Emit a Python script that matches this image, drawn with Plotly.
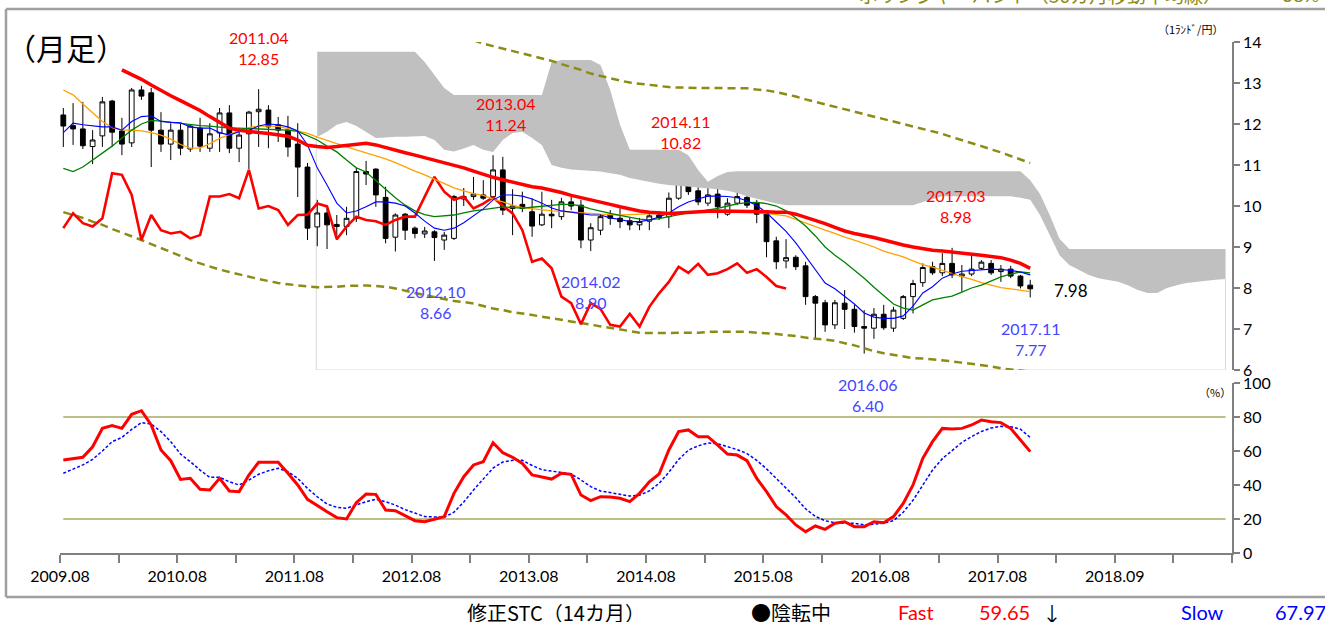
import plotly.graph_objects as go

# ---------------- data (monthly, 2009.08 = month 0) ----------------
month_idx = list(range(100))
x_tick_text = ["2009.08", "2010.08", "2011.08", "2012.08", "2013.08",
               "2014.08", "2015.08", "2016.08", "2017.08", "2018.09"]

open_ = [12.22, 11.96, 11.88, 11.45, 11.71, 12.56, 11.83, 11.54, 12.83, 12.76,
         11.85, 11.51, 11.85, 11.39, 11.90, 11.41, 11.78, 12.27, 11.41, 11.76,
         12.30, 12.34, 11.98, 11.85, 11.51, 10.95, 9.49, 9.83, 9.55, 9.50,
         9.70, 10.84, 10.90, 10.21, 9.24, 9.80, 9.46, 9.32, 9.37, 9.17,
         9.21, 10.17, 10.23, 10.27, 10.23, 10.88, 9.94, 10.04, 9.86, 9.54,
         9.80, 9.74, 10.10, 10.02, 9.17, 9.41, 9.78, 9.70, 9.64, 9.54,
         9.63, 9.78, 9.74, 10.19, 10.76, 10.37, 10.07, 10.29, 9.80, 10.07,
         10.21, 10.08, 9.82, 9.15, 8.66, 8.75, 8.54, 7.79, 7.64, 7.10,
         7.63, 7.48, 7.06, 7.02, 7.36, 7.02, 7.26, 7.79, 8.13, 8.52,
         8.37, 8.60, 8.29, 8.34, 8.48, 8.60, 8.40, 8.46, 8.29, 8.07]
high = [12.39, 12.51, 12.54, 11.85, 12.66, 12.59, 12.15, 12.88, 12.93, 12.88,
        12.29, 12.02, 12.02, 12.00, 12.15, 12.02, 12.39, 12.46, 11.90, 12.32,
        12.85, 12.46, 12.17, 12.20, 12.02, 11.05, 10.15, 9.98, 9.78, 9.98,
        10.93, 11.10, 10.92, 10.47, 9.82, 9.83, 9.50, 9.49, 9.41, 9.37,
        10.27, 10.44, 10.71, 10.63, 11.24, 11.20, 10.41, 10.35, 10.19, 10.35,
        10.15, 10.20, 10.22, 10.15, 9.58, 9.80, 9.90, 9.94, 9.71, 9.71,
        9.83, 9.88, 10.33, 10.82, 10.81, 10.46, 10.47, 10.47, 10.19, 10.33,
        10.27, 10.15, 9.86, 9.25, 9.19, 8.80, 8.64, 7.83, 7.71, 7.71,
        7.95, 7.59, 7.46, 7.51, 7.59, 7.54, 7.83, 8.20, 8.60, 8.64,
        8.85, 8.98, 8.56, 8.80, 8.68, 8.68, 8.56, 8.54, 8.32, 8.20]
low = [11.44, 11.49, 11.39, 11.02, 11.44, 11.44, 11.24, 11.44, 12.59, 10.95,
       11.32, 11.12, 11.24, 11.32, 11.32, 11.32, 11.32, 11.29, 11.07, 10.90,
       11.44, 11.41, 11.56, 11.20, 10.22, 9.17, 9.02, 8.95, 9.17, 9.29,
       9.61, 10.51, 9.98, 9.09, 8.89, 9.17, 9.21, 9.22, 8.66, 8.93,
       9.17, 10.00, 10.15, 10.15, 10.15, 9.78, 9.29, 9.85, 9.25, 9.51,
       9.46, 9.66, 9.90, 8.97, 8.90, 9.29, 9.54, 9.46, 9.41, 9.41,
       9.41, 9.66, 9.46, 10.15, 10.27, 10.02, 10.00, 9.70, 9.76, 10.02,
       9.95, 9.58, 8.75, 8.46, 8.48, 8.44, 7.59, 6.73, 6.93, 7.00,
       7.00, 6.91, 6.40, 6.76, 6.98, 6.93, 7.22, 7.38, 8.03, 8.32,
       8.29, 8.24, 7.91, 8.29, 8.44, 8.32, 8.15, 8.24, 7.99, 7.77]
close = [11.95, 11.88, 11.47, 11.61, 12.54, 11.80, 11.51, 12.83, 12.68, 11.85,
         11.51, 11.85, 11.41, 11.95, 11.46, 11.76, 12.27, 11.41, 11.73, 12.29,
         12.36, 11.93, 11.85, 11.44, 10.95, 9.46, 9.83, 9.54, 9.50, 9.70,
         10.84, 10.78, 10.27, 9.21, 9.78, 9.41, 9.33, 9.39, 9.23, 9.29,
         10.23, 10.23, 10.29, 10.19, 10.88, 9.90, 10.00, 9.94, 9.51, 9.80,
         9.76, 10.10, 10.00, 9.17, 9.47, 9.74, 9.70, 9.62, 9.54, 9.62,
         9.76, 9.72, 10.19, 10.71, 10.35, 10.10, 10.27, 9.98, 10.07, 10.23,
         10.02, 9.80, 9.13, 8.64, 8.74, 8.52, 7.79, 7.63, 7.10, 7.64,
         7.48, 7.06, 7.02, 7.36, 7.03, 7.46, 7.79, 8.11, 8.50, 8.37,
         8.60, 8.32, 8.34, 8.46, 8.63, 8.37, 8.46, 8.29, 8.05, 7.98]

# moving averages
ma_red_start = 6
ma_red = [13.32, 13.21, 13.09, 12.95, 12.81, 12.69, 12.57, 12.45, 12.33, 12.18,
          12.04, 11.90, 11.85, 11.81, 11.79, 11.77, 11.73, 11.70, 11.61, 11.48,
          11.45, 11.43, 11.45, 11.48, 11.51, 11.53, 11.49, 11.42, 11.37, 11.30,
          11.24, 11.18, 11.11, 11.05, 10.99, 10.93, 10.85, 10.77, 10.70, 10.64,
          10.58, 10.52, 10.47, 10.44, 10.39, 10.33, 10.26, 10.21, 10.15, 10.09,
          10.04, 9.98, 9.92, 9.88, 9.85, 9.83, 9.82, 9.83, 9.85, 9.86,
          9.87, 9.88, 9.88, 9.88, 9.87, 9.86, 9.86, 9.85, 9.85, 9.80,
          9.73, 9.66, 9.57, 9.48, 9.39, 9.33, 9.29, 9.23, 9.17, 9.10,
          9.05, 9.00, 8.95, 8.92, 8.90, 8.88, 8.86, 8.83, 8.80, 8.77,
          8.74, 8.68, 8.60, 8.48]
ma_blue = [11.79, 12.02, 11.98, 11.95, 11.93, 11.93, 11.85, 12.06, 12.18, 12.20,
           12.06, 12.04, 12.03, 11.93, 11.90, 11.90, 11.79, 11.73, 11.81, 11.85,
           11.95, 12.00, 11.98, 11.93, 11.83, 11.49, 10.93, 10.51, 10.07, 9.83,
           9.88, 9.98, 10.10, 10.10, 10.07, 10.00, 9.83, 9.63, 9.46, 9.41,
           9.46, 9.59, 9.76, 9.93, 10.15, 10.27, 10.27, 10.24, 10.17, 10.07,
           9.95, 9.88, 9.85, 9.82, 9.78, 9.78, 9.71, 9.67, 9.62, 9.62,
           9.66, 9.73, 9.83, 9.98, 10.10, 10.17, 10.24, 10.24, 10.23, 10.20,
           10.13, 10.01, 9.84, 9.61, 9.38, 9.10, 8.78, 8.46, 8.12, 7.98,
           7.80, 7.61, 7.39, 7.29, 7.26, 7.26, 7.32, 7.56, 7.88, 8.03,
           8.24, 8.34, 8.41, 8.43, 8.45, 8.46, 8.45, 8.43, 8.39, 8.32]
ma_green = [10.92, 10.84, 10.95, 11.12, 11.27, 11.46, 11.66, 11.85, 12.00, 12.09,
            12.07, 12.04, 12.02, 11.99, 11.96, 11.95, 11.93, 11.90, 11.90, 11.89,
            11.88, 11.87, 11.87, 11.85, 11.82, 11.72, 11.61, 11.46, 11.32, 11.12,
            10.93, 10.83, 10.63, 10.41, 10.20, 10.02, 9.88, 9.79, 9.74, 9.76,
            9.78, 9.83, 9.88, 9.91, 9.94, 9.98, 9.96, 9.95, 9.97, 9.99,
            10.01, 10.04, 10.04, 10.00, 9.93, 9.87, 9.82, 9.77, 9.72, 9.68,
            9.66, 9.69, 9.74, 9.79, 9.83, 9.86, 9.90, 9.94, 10.00, 10.05,
            10.08, 10.09, 10.06, 10.00, 9.88, 9.71, 9.51, 9.27, 9.00, 8.80,
            8.63, 8.44, 8.24, 8.02, 7.81, 7.61, 7.51, 7.46, 7.59, 7.71,
            7.76, 7.80, 7.90, 8.00, 8.07, 8.17, 8.27, 8.34, 8.39, 8.37]
ma_orange = [12.83, 12.71, 12.49, 12.27, 12.06, 11.91, 11.85, 11.85, 11.83, 11.79,
             11.73, 11.63, 11.50, 11.41, 11.41, 11.52, 11.65, 11.74, 11.84, 11.91,
             11.95, 11.95, 11.94, 11.89, 11.83, 11.77, 11.68, 11.60, 11.51, 11.44,
             11.37, 11.30, 11.22, 11.15, 11.06, 10.95, 10.85, 10.76, 10.65, 10.54,
             10.44, 10.37, 10.30, 10.26, 10.17, 10.10, 10.02, 9.96, 9.93, 9.90,
             9.88, 9.87, 9.85, 9.83, 9.82, 9.80, 9.79, 9.78, 9.79, 9.80,
             9.82, 9.83, 9.84, 9.85, 9.86, 9.87, 9.87, 9.88, 9.88, 9.88,
             9.87, 9.84, 9.82, 9.79, 9.76, 9.67, 9.59, 9.50, 9.41, 9.33,
             9.24, 9.17, 9.09, 9.00, 8.90, 8.83, 8.76, 8.66, 8.57, 8.51,
             8.43, 8.35, 8.28, 8.21, 8.13, 8.07, 8.01, 7.98, 7.94, 7.91]

# lagging span (months 0-74)
chikou = [9.46, 9.82, 9.58, 9.50, 9.70, 10.80, 10.76, 10.27, 9.17, 9.78,
          9.41, 9.33, 9.37, 9.21, 9.29, 10.23, 10.23, 10.29, 10.19, 10.88,
          9.94, 10.00, 9.90, 9.54, 9.78, 9.79, 10.06, 9.99, 9.19, 9.50,
          9.74, 9.66, 9.63, 9.54, 9.66, 9.74, 9.74, 10.23, 10.71, 10.35,
          10.15, 10.23, 9.94, 10.06, 10.21, 10.00, 9.82, 9.41, 8.64, 8.72,
          8.48, 7.79, 7.63, 7.12, 7.63, 7.49, 7.10, 7.06, 7.37, 7.06,
          7.54, 7.87, 8.15, 8.52, 8.37, 8.59, 8.32, 8.36, 8.46, 8.60,
          8.37, 8.46, 8.27, 8.05, 7.99]

# Bollinger bands (36-month, +-2 sigma)
bb_upper_start = 42
bb_upper = [14.04, 13.96, 13.90, 13.84, 13.78, 13.72, 13.66, 13.60, 13.54, 13.46,
            13.39, 13.32, 13.23, 13.17, 13.11, 13.06, 13.01, 12.98, 12.95, 12.93,
            12.90, 12.89, 12.88, 12.88, 12.88, 12.88, 12.88, 12.88, 12.87, 12.84,
            12.82, 12.78, 12.73, 12.67, 12.60, 12.54, 12.48, 12.41, 12.35, 12.29,
            12.23, 12.17, 12.11, 12.06, 12.00, 11.94, 11.88, 11.82, 11.76, 11.68,
            11.61, 11.54, 11.46, 11.38, 11.31, 11.22, 11.13, 11.05]
bb_lower = [9.85, 9.78, 9.71, 9.62, 9.54, 9.44, 9.35, 9.27, 9.17, 9.07,
            8.98, 8.88, 8.78, 8.68, 8.60, 8.52, 8.45, 8.39, 8.33, 8.27,
            8.22, 8.17, 8.12, 8.09, 8.06, 8.04, 8.02, 8.02, 8.03, 8.05,
            8.06, 8.06, 8.05, 8.03, 7.99, 7.93, 7.88, 7.83, 7.78, 7.73,
            7.68, 7.66, 7.62, 7.56, 7.50, 7.46, 7.41, 7.38, 7.34, 7.30,
            7.26, 7.22, 7.18, 7.14, 7.10, 7.06, 7.02, 6.98, 6.94, 6.91,
            6.90, 6.90, 6.90, 6.90, 6.90, 6.91, 6.93, 6.93, 6.93, 6.93,
            6.93, 6.91, 6.90, 6.88, 6.85, 6.83, 6.79, 6.77, 6.74, 6.71,
            6.66, 6.60, 6.53, 6.46, 6.41, 6.37, 6.32, 6.29, 6.28, 6.26,
            6.23, 6.21, 6.18, 6.15, 6.12, 6.09, 6.04, 6.01, 5.99, 5.96]

# Ichimoku cloud (months 26-119)
cloud_start = 26
cloud_top = ([13.76] * 11 + [13.51, 13.20, 12.88] + [12.71] * 10 + [13.51]
             + [13.56] * 4 + [13.44, 12.83, 11.98] + [11.37] * 6
             + [11.24, 10.88, 10.59, 10.73, 10.83] + [10.85] * 30
             + [10.63, 10.29, 9.78, 9.20] + [8.95] * 17)
cloud_bot = ([11.68, 11.81, 11.98, 12.05, 11.95, 11.81, 11.66, 11.67, 11.69, 11.69, 11.70,
              11.71, 11.61, 11.37, 11.33, 11.40, 11.49, 11.37, 11.32, 11.61, 11.78, 11.81,
              11.66, 11.49,
              11.00, 10.93, 10.89, 10.87, 10.85, 10.84, 10.80, 10.76, 10.68, 10.63,
              10.59, 10.54, 10.51, 10.49, 10.47, 10.45, 10.44, 10.41, 10.37, 10.32,
              10.24, 10.18, 10.12, 10.06, 10.02]
             + [10.02] * 13 + [10.10, 10.17] + [10.24] * 8
             + [10.20, 10.15, 9.78, 9.29, 8.80, 8.56, 8.44, 8.32, 8.24, 8.20, 8.15,
                8.07, 7.95, 7.88, 7.88, 8.00, 8.07, 8.12, 8.15, 8.17, 8.20, 8.22])

# modified stochastics (14 months)
stc_fast = [54.7, 55.5, 56.3, 62.5, 73.3, 74.9, 73.3, 81.6, 83.7, 75.3,
            60.6, 54.3, 43.3, 43.9, 37.5, 37.1, 43.9, 36.5, 36.1, 45.9,
            53.4, 53.4, 53.4, 46.9, 40.0, 31.6, 28.2, 24.3, 20.8, 20.0,
            29.6, 34.7, 34.5, 25.3, 24.9, 21.8, 19.0, 18.4, 19.8, 21.4,
            35.1, 44.9, 51.8, 53.7, 64.9, 59.0, 56.3, 52.7, 45.9, 44.9,
            43.5, 46.9, 46.3, 34.1, 30.8, 33.1, 32.9, 32.2, 30.2, 35.1,
            41.9, 46.5, 60.6, 71.4, 72.4, 68.4, 68.4, 63.5, 58.2, 57.6,
            54.3, 43.9, 36.1, 27.3, 22.4, 16.5, 12.5, 15.9, 13.9, 17.5,
            18.4, 15.5, 15.5, 18.4, 17.8, 21.4, 29.2, 40.0, 55.7, 65.5,
            73.3, 72.9, 73.3, 75.3, 78.2, 77.2, 76.7, 73.3, 66.5, 59.65]
stc_slow = [46.9, 49.5, 51.8, 55.1, 60.0, 65.5, 68.0, 72.7, 76.7, 75.9,
            71.4, 65.5, 58.2, 53.7, 48.8, 44.5, 44.5, 41.9, 40.0, 42.9,
            46.3, 48.4, 49.8, 47.8, 43.9, 38.0, 33.1, 28.8, 26.9, 26.3,
            28.2, 30.2, 31.6, 30.2, 28.2, 25.5, 23.5, 21.4, 21.2, 21.0,
            24.0, 30.0, 37.0, 43.5, 50.0, 53.5, 54.5, 54.5, 51.5, 49.0,
            48.2, 47.6, 46.5, 43.0, 39.0, 36.5, 35.5, 34.5, 33.5, 34.0,
            36.5, 41.0, 47.5, 55.0, 60.5, 63.0, 64.7, 64.3, 62.5, 60.8,
            58.5, 54.5, 49.5, 44.0, 38.5, 32.5, 26.0, 21.5, 19.0, 17.8,
            17.5, 17.5, 16.5, 17.0, 17.5, 19.0, 24.0, 31.0, 40.0, 48.8,
            55.5, 60.5, 65.0, 68.5, 71.5, 73.5, 74.5, 74.3, 72.8, 67.97]
stc_levels = [80, 20]

highs_labels = [("2011.04", "12.85"), ("2013.04", "11.24"), ("2014.11", "10.82"), ("2017.03", "8.98")]
lows_labels = [("2012.10", "8.66"), ("2014.02", "8.90"), ("2016.06", "6.40"), ("2017.11", "7.77")]

# ---------------- layout geometry ----------------
W, H = 1325, 622
ML, MR, MT, MB = 60, 93, 42, 69
PW, PH = W - ML - MR, H - MT - MB
X_OFF = 0.34          # candle sits a third of a month after its tick


def px(p):
    return (p - ML) / PW


def py(p):
    return (H - MB - p) / PH


xc = [m + X_OFF for m in month_idx]
x_red = xc[ma_red_start:]
x_chi = xc[:len(chikou)]
x_bbu = xc[bb_upper_start:]
x_cloud = [cloud_start + i + X_OFF for i in range(len(cloud_top))]

OLIVE = "#8c8c14"
fig = go.Figure()

# cloud
fig.add_trace(go.Scatter(x=x_cloud, y=cloud_top, mode="lines", line=dict(width=0, color="#c0c0c0"),
                         hoverinfo="skip", showlegend=False, yaxis="y"))
fig.add_trace(go.Scatter(x=x_cloud, y=cloud_bot, mode="lines", line=dict(width=0, color="#c0c0c0"),
                         fill="tonexty", fillcolor="#c0c0c0", hoverinfo="skip", showlegend=False, yaxis="y"))

# bollinger
fig.add_trace(go.Scatter(x=x_bbu, y=bb_upper, mode="lines", line=dict(color=OLIVE, width=2.5, dash="8px,5px"),
                         showlegend=False, yaxis="y"))
fig.add_trace(go.Scatter(x=xc, y=bb_lower, mode="lines", line=dict(color=OLIVE, width=2.5, dash="8px,5px"),
                         showlegend=False, yaxis="y"))

# candles
fig.add_trace(go.Candlestick(x=xc, open=open_, high=high, low=low, close=close,
                             increasing=dict(line=dict(color="black", width=1), fillcolor="white"),
                             decreasing=dict(line=dict(color="black", width=1), fillcolor="black"),
                             whiskerwidth=0, showlegend=False, yaxis="y"))

# lagging span + averages
fig.add_trace(go.Scatter(x=x_chi, y=chikou, mode="lines", line=dict(color="#ff0000", width=2.6),
                         showlegend=False, yaxis="y"))
fig.add_trace(go.Scatter(x=xc, y=ma_orange, mode="lines", line=dict(color="#ffa000", width=1.3),
                         showlegend=False, yaxis="y"))
fig.add_trace(go.Scatter(x=xc, y=ma_green, mode="lines", line=dict(color="#008000", width=1.3),
                         showlegend=False, yaxis="y"))
fig.add_trace(go.Scatter(x=xc, y=ma_blue, mode="lines", line=dict(color="#0000ff", width=1.1),
                         showlegend=False, yaxis="y"))
fig.add_trace(go.Scatter(x=x_red, y=ma_red, mode="lines", line=dict(color="#ff0000", width=3.5),
                         showlegend=False, yaxis="y"))

# stochastics
fig.add_trace(go.Scatter(x=xc, y=stc_slow, mode="lines", line=dict(color="#0000ff", width=1.5, dash="3px,2px"),
                         showlegend=False, yaxis="y2"))
fig.add_trace(go.Scatter(x=xc, y=stc_fast, mode="lines", line=dict(color="#ff0000", width=3),
                         showlegend=False, yaxis="y2"))

shapes = []
for lv in stc_levels:
    shapes.append(dict(type="line", xref="x", yref="y2", x0=xc[0], x1=x_cloud[-1], y0=lv, y1=lv,
                       line=dict(color="#a8a860", width=1.5), layer="below"))
# light frame of the cloud area
for (x0, y0, x1, y1) in [(x_cloud[0] - 0.1, 6, x_cloud[-1], 6),
                         (x_cloud[0] - 0.1, 6, x_cloud[0] - 0.1, cloud_bot[0]),
                         (x_cloud[-1], 6, x_cloud[-1], cloud_bot[-1])]:
    shapes.append(dict(type="line", xref="x", yref="y", x0=x0, x1=x1, y0=y0, y1=y1,
                       line=dict(color="#d9d9d9", width=1), layer="below"))
# outer frame
FR = "#a0a0a0"
shapes += [
    dict(type="line", xref="paper", yref="paper", x0=px(6), x1=px(1330), y0=py(9), y1=py(9), line=dict(color=FR, width=2.5)),
    dict(type="line", xref="paper", yref="paper", x0=px(6), x1=px(6), y0=py(9), y1=py(597), line=dict(color=FR, width=2.5)),
    dict(type="line", xref="paper", yref="paper", x0=px(6), x1=px(1330), y0=py(597), y1=py(597), line=dict(color=FR, width=2.5)),
]

NUMF = "Lato, Noto Sans CJK JP"
JPF = "Noto Sans CJK JP"
ann = []


def add_text(text, x, y, size, color="black", family=NUMF):
    ann.append(dict(text=text, x=px(x), y=py(y), xref="paper", yref="paper", showarrow=False,
                    xanchor="center", yanchor="middle", font=dict(size=size, color=color, family=family)))


add_text("（月足）", 66, 47, 30, family=JPF)
hi_pos = [(258, 47.5), (505, 114), (680, 131.5), (955, 205.5)]
for (d, v), (x, y) in zip(highs_labels, hi_pos):
    add_text(f"{d}<br>{v}", x, y, 16, "#ff0000")
lo_pos = [(435, 302.5), (590, 291.5), (867, 395), (1030, 339)]
for (d, v), (x, y) in zip(lows_labels, lo_pos):
    add_text(f"{d}<br>{v}", x, y, 16, "#4646ff")
add_text(f"{close[-1]:.2f}", 1071, 290, 17)
add_text("（1ﾗﾝﾄﾞ/円）", 1190, 29, 11, family=JPF)
add_text("（%）", 1215, 392, 11, family=JPF)
add_text("ボリンジャーバンド（36カ月移動平均線）", 1040, -6, 19, OLIVE, JPF)
add_text("38%", 1300, -6, 19, OLIVE)
add_text("修正STC（14カ月）", 556, 612, 20, family=JPF)
add_text("●陰転中", 791, 612, 20, family=JPF)
add_text("Fast", 916, 612, 20, "#ff0000")
add_text(f"{stc_fast[-1]:.2f}", 1005, 612, 20, "#ff0000")
add_text("↓", 1052, 613, 20, family=JPF)
add_text("Slow", 1202, 612, 20, "#0000ff")
add_text(f"{stc_slow[-1]:.2f}", 1300, 612, 20, "#0000ff")

tickvals = list(range(0, 121, 6))
ticktext = [x_tick_text[i // 12] if (i % 12 == 0 and i // 12 < len(x_tick_text)) else "" for i in tickvals]

AX = "#808080"
fig.update_layout(
    width=W, height=H, margin=dict(l=ML, r=MR, t=MT, b=MB),
    paper_bgcolor="white", plot_bgcolor="white", showlegend=False,
    xaxis=dict(domain=[0, 1], range=[0, 120], anchor="y2", showline=True, linecolor=AX, linewidth=1.5,
               ticks="outside", ticklen=8, tickcolor=AX, tickwidth=1.5, tickvals=tickvals, ticktext=ticktext,
               showgrid=False, zeroline=False, rangeslider=dict(visible=False),
               tickfont=dict(family=NUMF, size=16, color="black")),
    yaxis=dict(domain=[py(370), 1], range=[6, 14], side="right", anchor="x", showline=True, linecolor=AX,
               linewidth=1.5, ticks="outside", ticklen=6, tickcolor=AX, tickwidth=1.5, dtick=1,
               showgrid=False, zeroline=False, tickfont=dict(family=NUMF, size=16, color="black")),
    yaxis2=dict(domain=[0, py(383)], range=[0, 100], side="right", anchor="x", showline=True, linecolor=AX,
                linewidth=1.5, ticks="outside", ticklen=6, tickcolor=AX, tickwidth=1.5, dtick=20,
                showgrid=False, zeroline=False, tickfont=dict(family=NUMF, size=16, color="black")),
    shapes=shapes, annotations=ann,
)

fig.write_html("out.html", config={"displayModeBar": False},
               post_script="document.body.style.margin='0px';document.body.style.overflow='hidden';")
